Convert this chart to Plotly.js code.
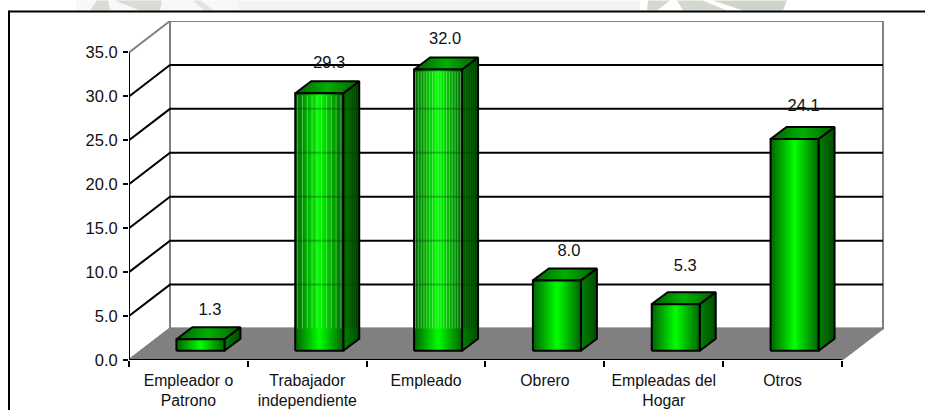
<!DOCTYPE html>
<html>
<head>
<meta charset="utf-8">
<script src="https://cdn.plot.ly/plotly-3.0.1.min.js"></script>
<style>html,body{margin:0;padding:0;background:#fff;overflow:hidden}#c{width:925px;height:410px}</style>
</head>
<body>
<div id="c"></div>
<script>
const categories = ['Empleador o<br>Patrono','Trabajador<br>independiente','Empleado','Obrero','Empleadas del<br>Hogar','Otros'];
const values = [1.3, 29.3, 32.0, 8.0, 5.3, 24.1];
const striped = [false, true, true, false, false, false];
const stripeCounts = [0, 10, 17, 0, 0, 0];
const labelNudgeX = [1.5, 2, -1, 4, 1.5, 1];
const labelNudgeY = [1, 0, 0, 1.5, -8, -3];
const yTicks = [0, 5, 10, 15, 20, 25, 30, 35];
const yMax = 35;

const W = 925, H = 410, L = 129, R = 884, T = 20.5, B = 360;
const pxX = 118.83, pxY = 8.8;
const wallDx = 41 / pxX, wallDy = 31.5 / pxY;
const barW = 48 / pxX, barOffX = 12 / pxX, barOffY = 9.3 / pxY, barDx = 16 / pxX, barDy = 12 / pxY;
const n = categories.length;

const traces = [];
function poly(xs, ys, o) {
  const t = {x: xs, y: ys, mode: 'lines', hoverinfo: 'skip', showlegend: false, cliponaxis: false,
    line: {color: o.line || 'rgba(0,0,0,0)', width: o.width === undefined ? 2 : o.width, simplify: false}};
  if (o.fill || o.grad) { t.fill = 'toself'; t.fillcolor = o.fill || 'rgba(0,0,0,0)'; }
  if (o.grad) t.fillgradient = {type: 'horizontal', colorscale: o.grad};
  traces.push(t);
}

// walls
poly([wallDx, 6 + wallDx, 6 + wallDx, wallDx, wallDx], [wallDy, wallDy, yMax + wallDy, yMax + wallDy, wallDy], {fill: '#ffffff', line: '#808080', width: 2});
poly([0, wallDx, wallDx, 0, 0], [0, wallDy, yMax + wallDy, yMax, 0], {fill: '#ffffff', line: '#808080', width: 2});

// gridlines
yTicks.filter(v => v > 0 && v < yMax).forEach(v => {
  poly([0, wallDx, 6 + wallDx], [v, v + wallDy, v + wallDy], {line: '#000000', width: 2});
});

// floor
poly([0, wallDx, 6 + wallDx, 6, 0], [0, wallDy, wallDy, 0, 0], {fill: '#808080', line: '#808080', width: 1.5});

// axis lines
poly([0, 0], [0, yMax], {line: '#000000', width: 2});
poly([0, 6], [0, 0], {line: '#000000', width: 2});

const frontGrad = [[0, '#006400'], [0.25, '#00b000'], [0.5, '#00ff00'], [0.75, '#00b000'], [1, '#006400']];
const topGrad = [[0, '#006000'], [0.5, '#00b000'], [1, '#006000']];
const sideGrad = [[0, '#008000'], [1, '#004c00']];

values.forEach((v, i) => {
  const x0 = i + 0.5 - barW / 2 + barOffX, x1 = x0 + barW, y0 = barOffY, y1 = v + barOffY;
  const bx = barDx, by = barDy;
  poly([x1, x1 + bx, x1 + bx, x1, x1], [y0, y0 + by, y1 + by, y1, y0], {grad: sideGrad, line: '#000000'});
  poly([x0, x1, x1 + bx, x0 + bx, x0], [y1, y1, y1 + by, y1 + by, y1], {grad: topGrad, line: '#000000'});
  poly([x0, x1, x1, x0, x0], [y0, y0, y1, y1, y0], {grad: frontGrad, line: '#000000'});
  if (striped[i]) {
    const sx = [], sy = [], dx = [], dy = [];
    const c = stripeCounts[i];
    for (let k = 1; k <= c; k++) {
      const px = x0 + (x1 - x0) * (k - 0.5) / c;
      sx.push(px, px, null); sy.push(wallDy, y1 - 0.25, null);
    }
    for (let k = 1; k <= 6; k++) {
      const px = x1 + bx * k / 7;
      dx.push(px, px, null); dy.push(wallDy, y1 + by * k / 7 - 0.2, null);
    }
    poly(sx, sy, {line: 'rgba(215,255,215,0.38)', width: 1});
    poly(dx, dy, {line: 'rgba(0,40,0,0.4)', width: 1});
    const gx = [], gy = [];
    yTicks.filter(t => t > 0 && t + wallDy < y1 + 0.2).forEach(t => {
      gx.push(x0 + 0.01, x1 - 0.01, null); gy.push(t + wallDy, t + wallDy, null);
      gx.push(x1 + 0.01, x1 + bx - 0.01, null); gy.push(t + wallDy, t + wallDy, null);
    });
    poly(gx, gy, {line: 'rgba(0,50,0,0.3)', width: 2});
  }
});

// value labels
traces.push({
  x: values.map((v, i) => i + 0.5 + barOffX + barDx / 2 + labelNudgeX[i] / pxX),
  y: values.map((v, i) => v + barOffY + barDy + 2 - labelNudgeY[i] / pxY),
  text: values.map(v => v.toFixed(1)),
  mode: 'text', textposition: 'middle center', cliponaxis: false, hoverinfo: 'skip', showlegend: false,
  textfont: {family: 'Liberation Sans, Arial, sans-serif', size: 16.5, color: '#111111'}
});

const pX = x => (x - L) / (R - L), pY = y => (B - y) / (B - T);
const wm = (pts, color) => ({
  type: 'path', xref: 'paper', yref: 'paper', layer: 'below', line: {width: 0}, fillcolor: color,
  path: 'M' + pts.map(p => pX(p[0]) + ',' + pY(p[1])).join('L') + 'Z'
});
const layout = {
  width: W, height: H, showlegend: false, paper_bgcolor: '#ffffff', plot_bgcolor: 'rgba(0,0,0,0)',
  margin: {l: L, r: W - R, t: T, b: H - B, pad: 0},
  xaxis: {
    range: [0, (R - L) / pxX], showgrid: false, zeroline: false, showline: false,
    tickmode: 'array', tickvals: categories.map((c, i) => i + 0.5), ticktext: categories, ticks: '', ticklen: 0,
    tickfont: {family: 'Liberation Sans, Arial, sans-serif', size: 15.8, color: '#111111'},
    ticklabelstandoff: 9,
    minor: {tickmode: 'array', tickvals: categories.map((c, i) => i).concat([n]), ticks: 'outside', ticklen: 6, tickwidth: 2, tickcolor: '#000000', showgrid: false}
  },
  yaxis: {
    range: [0, (B - T) / pxY], showgrid: false, zeroline: false, showline: false,
    tickmode: 'array', tickvals: yTicks, ticktext: yTicks.map(v => v.toFixed(1)),
    ticks: 'outside', ticklen: 5, tickwidth: 2, tickcolor: '#000000',
    tickfont: {family: 'Liberation Sans, Arial, sans-serif', size: 16.5, color: '#111111'},
    ticklabelstandoff: 2
  },
  shapes: [
    // faint page watermark above the frame
    wm([[76, 0], [237, 0], [237, 10], [76, 10]], '#f7f8f7'),
    wm([[237, 0], [640, 0], [640, 10], [237, 10]], '#f2f4f2'),
    wm([[97, 0], [108, 0], [110, 10], [90, 10]], '#d8dcd4'),
    wm([[115, 0], [162, 0], [160, 10], [140, 10]], '#d8dcd4'),
    wm([[193, 0], [201, 0], [213, 10], [204, 10]], '#e2e5df'),
    wm([[648, 0], [670, 0], [657, 10], [647, 10]], '#d4d9d0'),
    wm([[677, 0], [703, 0], [727, 10], [683, 10]], '#d4d9d0'),
    wm([[713, 0], [787, 0], [783, 10], [743, 10]], '#d0d5cb'),
    // frame
    {type: 'line', xref: 'paper', yref: 'paper', x0: pX(9), x1: pX(925), y0: pY(11), y1: pY(11), line: {color: '#000000', width: 2}},
    {type: 'line', xref: 'paper', yref: 'paper', x0: pX(9), x1: pX(9), y0: pY(10), y1: pY(410), line: {color: '#000000', width: 2}}
  ]
};
Plotly.newPlot('c', traces, layout, {displayModeBar: false, staticPlot: true});
</script>
</body>
</html>
